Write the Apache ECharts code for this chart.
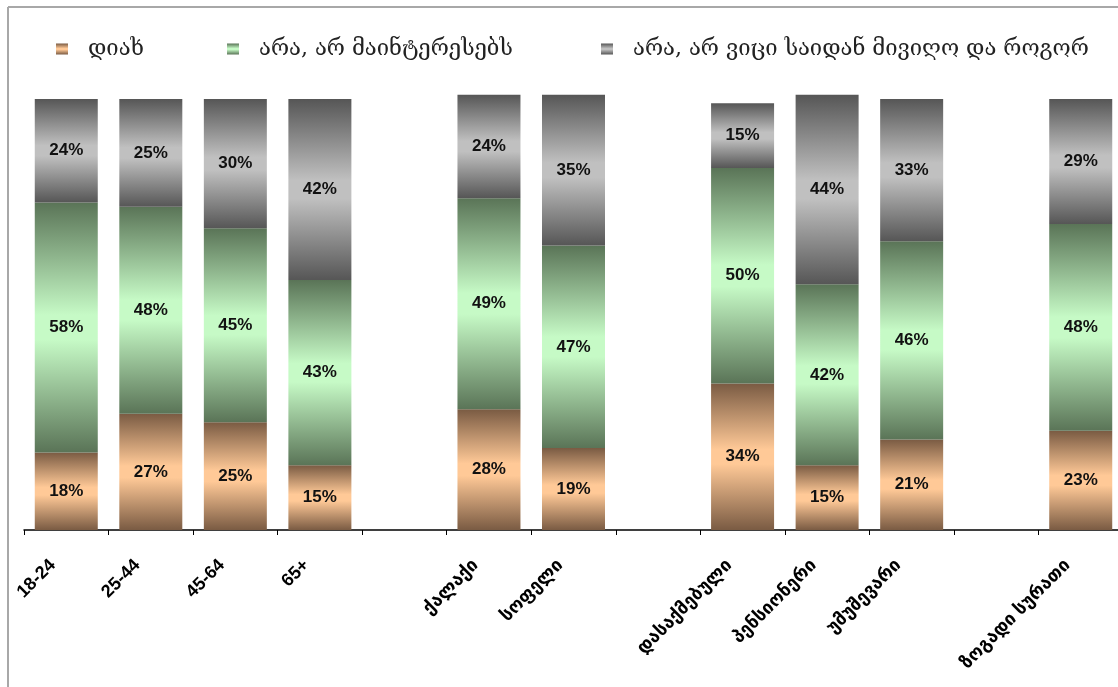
<!DOCTYPE html>
<html>
<head>
<meta charset="utf-8">
<script src="https://cdn.jsdelivr.net/npm/echarts@6/dist/echarts.min.js"></script>
<style>
html,body{margin:0;padding:0;background:#fff;}
#chart{width:1118px;height:687px;}
</style>
</head>
<body>
<div id="chart"></div>
<script>
var categories = ['18-24','25-44','45-64','65+','','ქალაქი','სოფელი','','დასაქმებული','პენსიონერი','უმუშევარი','','ზოგადი სურათი'];
var seriesNames = ['დიახ','არა, არ მაინტერესებს','არა, არ ვიცი საიდან მივიღო და როგორ'];
var yesValues = [18,27,25,15,null,28,19,null,34,15,21,null,23];
var notInterestedValues = [58,48,45,43,null,49,47,null,50,42,46,null,48];
var dontKnowValues = [24,25,30,42,null,24,35,null,15,44,33,null,29];

function grad(dark, light){
  return {type:'linear',x:0,y:0,x2:0,y2:1,colorStops:[
    {offset:0,color:dark},{offset:0.45,color:light},{offset:0.55,color:light},{offset:1,color:dark}]};
}
var palettes = [['#7a5b43','#ffc997'],['#5a7457','#c6fac6'],['#565656','#c0c0c0']];
var dataSets = [yesValues, notInterestedValues, dontKnowValues];
var legendLefts = [51, 222, 596];

var chart = echarts.init(document.getElementById('chart'));
var series = dataSets.map(function(d,i){
  return {
    name: seriesNames[i], type:'bar', stack:'total', barWidth:63,
    data: d.map(function(v){return v==null?'-':v;}),
    itemStyle:{color:grad(palettes[i][0],palettes[i][1])},
    label:{show:true,position:'inside',formatter:'{c}%',color:'#111',
      fontFamily:'Liberation Sans, Arial, sans-serif',fontWeight:'bold',fontSize:17}
  };
});
chart.setOption({
  animation:false,
  legend: seriesNames.map(function(n,i){
    return {
      left:legendLefts[i], top:33, itemWidth:12, itemHeight:11, icon:'rect',
      textStyle:{fontFamily:'DejaVu Serif, Liberation Serif, serif',fontSize:22,color:'#222',padding:[0,0,0,15]},
      data:[n]
    };
  }),
  grid:{left:24, top:90.4, width:1099, bottom:157, outerBoundsMode:'none', containLabel:false},
  xAxis:{
    type:'category', data:categories, boundaryGap:true,
    axisLine:{lineStyle:{color:'#000',width:1.5}},
    axisTick:{show:true,interval:0,length:5,lineStyle:{color:'#000'}},
    axisLabel:{interval:0,rotate:45,margin:19,color:'#000',fontWeight:'bold',fontSize:18,
      fontFamily:'Liberation Sans, DejaVu Sans, sans-serif',padding:[0,19,0,0]}
  },
  yAxis:{type:'value',min:0,max:102,show:false,splitLine:{show:false}},
  graphic:[
    {type:'line',shape:{x1:8,y1:7,x2:1118,y2:7},style:{stroke:'#a8a8a8',lineWidth:2}},
    {type:'line',shape:{x1:8,y1:7,x2:8,y2:687},style:{stroke:'#a8a8a8',lineWidth:2}}
  ],
  series: series
});
</script>
</body>
</html>
